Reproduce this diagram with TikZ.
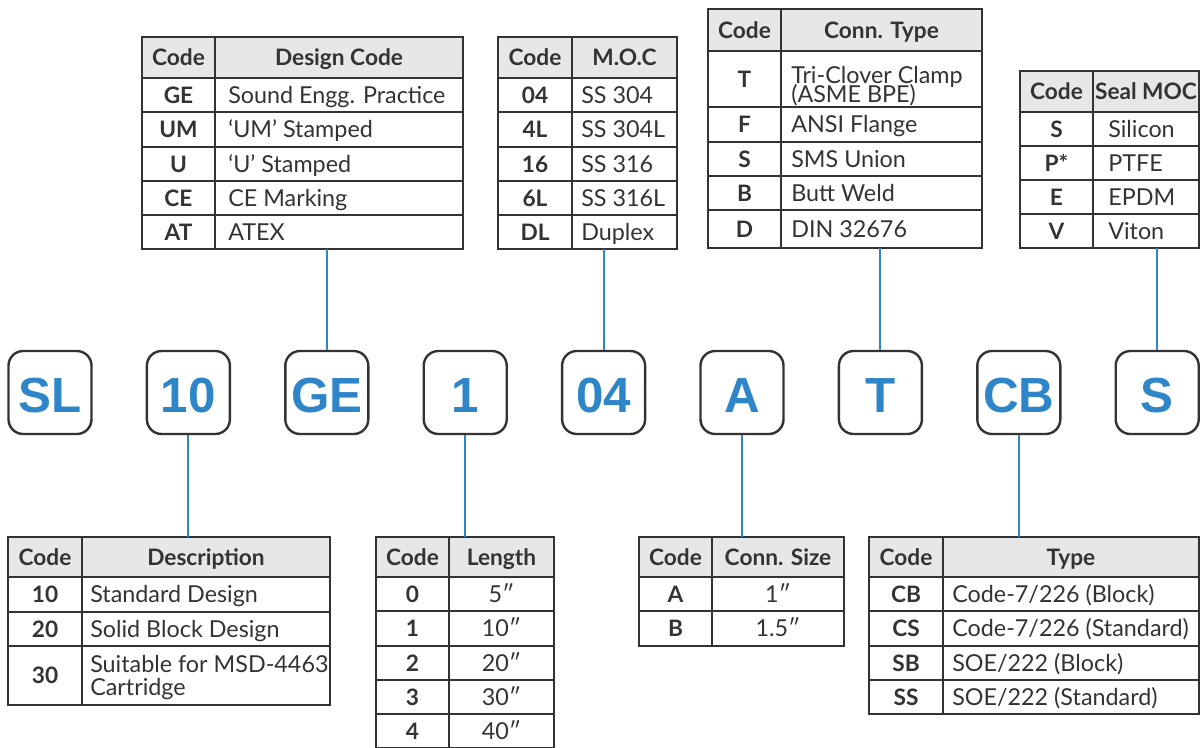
\documentclass[tikz,border=0pt]{standalone}
\usepackage{fontspec}
\usepackage{tikz}
\setmainfont{Lato}
\newfontfamily\bigfont{Liberation Sans}
\newcommand\tightlines{\lineskiplimit-30pt\relax}

\definecolor{codeblue}{HTML}{2E86C8}
\definecolor{tabline}{HTML}{333333}
\definecolor{headgray}{HTML}{E6E7E8}
\definecolor{txtgray}{HTML}{333333}

\tikzset{
  codebox/.style={draw=tabline, line width=1.8pt, rounded corners=11pt, minimum width=62.25pt, minimum height=62.25pt, inner sep=0pt, text=codeblue, text height=30.3pt, text depth=0pt, font=\bigfont\bfseries\fontsize{37}{37}\selectfont},
  link/.style={draw=codeblue, line width=1.5pt},
  tabframe/.style={draw=tabline, line width=1.1pt},
  headfill/.style={fill=headgray},
  headtxt/.style={inner sep=0pt, text=txtgray, text height=12.2pt, text depth=0pt, font=\bfseries\fontsize{17}{19}\selectfont},
  codetxt/.style={headtxt},
  celltxt/.style={inner sep=0pt, text=txtgray, text height=12.5pt, text depth=0pt, font=\fontsize{17.5}{20}\selectfont},
  twoline/.style={inner sep=0pt, text=txtgray, align=left, anchor=north west},
}

\begin{document}
\begin{tikzpicture}[x=0.75pt,y=0.75pt,yscale=-1,xscale=1]
\useasboundingbox (0,0) rectangle (1202,747);

%Shape: Table [id:designcode]
\fill[headfill] (142,37) rectangle (463,78);
\draw[tabframe] (142,37) rectangle (463,249);
\draw[tabframe] (215,37) -- (215,249);
\draw[tabframe] (142,78) -- (463,78) (142,112) -- (463,112) (142,147) -- (463,147) (142,181) -- (463,181) (142,215) -- (463,215);
% Text Node
\node[headtxt] (dcHc) at (178.5,57.5) {Code};
\node[headtxt] (dcHd) at (339,57.5) {Design Code};
\node[codetxt] (dcGE) at (178.5,95) {GE};
\node[celltxt, anchor=west] (dcSound) at (228,95) {Sound Engg. Practice};
\node[codetxt] (dcUM) at (178.5,129.5) {UM};
\node[celltxt, anchor=west] (dcUMs) at (228,129.5) {‘UM’ Stamped};
\node[codetxt] (dcU) at (178.5,164) {U};
\node[celltxt, anchor=west] (dcUs) at (228,164) {‘U’ Stamped};
\node[codetxt] (dcCE) at (178.5,198) {CE};
\node[celltxt, anchor=west] (dcCEm) at (228,198) {CE Marking};
\node[codetxt] (dcAT) at (178.5,232) {AT};
\node[celltxt, anchor=west] (dcATEX) at (228,232) {ATEX};

%Shape: Table [id:moc]
\fill[headfill] (498,37) rectangle (677,78);
\draw[tabframe] (498,37) rectangle (677,249);
\draw[tabframe] (572,37) -- (572,249);
\draw[tabframe] (498,78) -- (677,78) (498,112) -- (677,112) (498,147) -- (677,147) (498,181) -- (677,181) (498,215) -- (677,215);
% Text Node
\node[headtxt] (mocHc) at (535,57.5) {Code};
\node[headtxt] (mocHd) at (624.5,57.5) {M.O.C};
\node[codetxt] (moc04) at (535,95) {04};
\node[celltxt, anchor=west] (mocSSa) at (581,95) {SS 304};
\node[codetxt] (moc4L) at (535,129.5) {4L};
\node[celltxt, anchor=west] (mocSSb) at (581,129.5) {SS 304L};
\node[codetxt] (moc16) at (535,164) {16};
\node[celltxt, anchor=west] (mocSSc) at (581,164) {SS 316};
\node[codetxt] (moc6L) at (535,198) {6L};
\node[celltxt, anchor=west] (mocSSd) at (581,198) {SS 316L};
\node[codetxt] (mocDL) at (535,232) {DL};
\node[celltxt, anchor=west] (mocDup) at (581,232) {Duplex};

%Shape: Table [id:conntype]
\fill[headfill] (708,9) rectangle (982,51);
\draw[tabframe] (708,9) rectangle (982,248);
\draw[tabframe] (781,9) -- (781,248);
\draw[tabframe] (708,51) -- (982,51) (708,107) -- (982,107) (708,142) -- (982,142) (708,176) -- (982,176) (708,210) -- (982,210);
% Text Node
\node[headtxt] (ctHc) at (744.5,30) {Code};
\node[headtxt] (ctHd) at (881.5,30) {Conn. Type};
\node[codetxt] (ctT) at (744.5,79) {T};
\node[twoline, font=\fontsize{17.5}{14}\selectfont\tightlines] (ctTri) at (791,66) {Tri-Clover Clamp\\(ASME BPE)};
\node[codetxt] (ctF) at (744.5,124.5) {F};
\node[celltxt, anchor=west] (ctAnsi) at (791,124.5) {ANSI Flange};
\node[codetxt] (ctS) at (744.5,159) {S};
\node[celltxt, anchor=west] (ctSms) at (791,159) {SMS Union};
\node[codetxt] (ctB) at (744.5,193) {B};
\node[celltxt, anchor=west] (ctButt) at (791,193) {Butt Weld};
\node[codetxt] (ctD) at (744.5,229) {D};
\node[celltxt, anchor=west] (ctDin) at (791,229) {DIN 32676};

%Shape: Table [id:sealmoc]
\fill[headfill] (1020,71) rectangle (1199,112);
\draw[tabframe] (1020,71) rectangle (1199,248);
\draw[tabframe] (1093,71) -- (1093,248);
\draw[tabframe] (1020,112) -- (1199,112) (1020,146) -- (1199,146) (1020,180) -- (1199,180) (1020,214) -- (1199,214);
% Text Node
\node[headtxt] (smHc) at (1056.5,91.5) {Code};
\node[headtxt] (smHd) at (1146,91.5) {Seal MOC};
\node[codetxt] (smS) at (1056.5,129) {S};
\node[celltxt, anchor=west] (smSil) at (1108,129) {Silicon};
\node[codetxt] (smP) at (1056.5,163) {P*};
\node[celltxt, anchor=west] (smPtfe) at (1108,163) {PTFE};
\node[codetxt] (smE) at (1056.5,197) {E};
\node[celltxt, anchor=west] (smEpdm) at (1108,197) {EPDM};
\node[codetxt] (smV) at (1056.5,231) {V};
\node[celltxt, anchor=west] (smVit) at (1108,231) {Viton};

%Shape: Table [id:description]
\fill[headfill] (8,537) rectangle (330,577);
\draw[tabframe] (8,537) rectangle (330,705);
\draw[tabframe] (82,537) -- (82,705);
\draw[tabframe] (8,577) -- (330,577) (8,612) -- (330,612) (8,646) -- (330,646);
% Text Node
\node[headtxt] (dsHc) at (45,557) {Code};
\node[headtxt] (dsHd) at (206,557) {Description};
\node[codetxt] (ds10) at (45,594.5) {10};
\node[celltxt, anchor=west] (dsStd) at (90,594.5) {Standard Design};
\node[codetxt] (ds20) at (45,629) {20};
\node[celltxt, anchor=west] (dsSol) at (90,629) {Solid Block Design};
\node[codetxt] (ds30) at (45,675.5) {30};
\node[twoline, font=\fontsize{17.5}{17.25}\selectfont\tightlines] (dsSuit) at (90,655.5) {Suitable for MSD-4463\\Cartridge};

%Shape: Table [id:length]
\fill[headfill] (376,537) rectangle (554,577);
\draw[tabframe] (376,537) rectangle (554,748);
\draw[tabframe] (449,537) -- (449,748);
\draw[tabframe] (376,577) -- (554,577) (376,611) -- (554,611) (376,646) -- (554,646) (376,680) -- (554,680) (376,714) -- (554,714);
% Text Node
\node[headtxt] (lnHc) at (412.5,557) {Code};
\node[headtxt] (lnHd) at (501.5,557) {Length};
\node[codetxt] (ln0) at (412.5,594) {0};
\node[celltxt] (lnV0) at (501.5,594) {5″};
\node[codetxt] (ln1) at (412.5,628.5) {1};
\node[celltxt] (lnV1) at (501.5,628.5) {10″};
\node[codetxt] (ln2) at (412.5,663) {2};
\node[celltxt] (lnV2) at (501.5,663) {20″};
\node[codetxt] (ln3) at (412.5,697) {3};
\node[celltxt] (lnV3) at (501.5,697) {30″};
\node[codetxt] (ln4) at (412.5,731) {4};
\node[celltxt] (lnV4) at (501.5,731) {40″};

%Shape: Table [id:connsize]
\fill[headfill] (639,537) rectangle (844,577);
\draw[tabframe] (639,537) rectangle (844,646);
\draw[tabframe] (712,537) -- (712,646);
\draw[tabframe] (639,577) -- (844,577) (639,611) -- (844,611);
% Text Node
\node[headtxt] (csHc) at (675.5,557) {Code};
\node[headtxt] (csHd) at (778,557) {Conn. Size};
\node[codetxt] (csA) at (675.5,594) {A};
\node[celltxt] (csVA) at (778,594) {1″};
\node[codetxt] (csB) at (675.5,628.5) {B};
\node[celltxt] (csVB) at (778,628.5) {1.5″};

%Shape: Table [id:type]
\fill[headfill] (869,537) rectangle (1199,577);
\draw[tabframe] (869,537) rectangle (1199,714);
\draw[tabframe] (943,537) -- (943,714);
\draw[tabframe] (869,577) -- (1199,577) (869,611) -- (1199,611) (869,646) -- (1199,646) (869,680) -- (1199,680);
% Text Node
\node[headtxt] (tyHc) at (906,557) {Code};
\node[headtxt] (tyHd) at (1071,557) {Type};
\node[codetxt] (tyCB) at (906,594) {CB};
\node[celltxt, anchor=west] (tyCBv) at (952,594) {Code-7/226 (Block)};
\node[codetxt] (tyCS) at (906,628.5) {CS};
\node[celltxt, anchor=west] (tyCSv) at (952,628.5) {Code-7/226 (Standard)};
\node[codetxt] (tySB) at (906,663) {SB};
\node[celltxt, anchor=west] (tySBv) at (952,663) {SOE/222 (Block)};
\node[codetxt] (tySS) at (906,697) {SS};
\node[celltxt, anchor=west] (tySSv) at (952,697) {SOE/222 (Standard)};

%Shape: Rounded Rectangles [id:codes]
\node[codebox] (bSL) at (50,392.5) {SL};
\node[codebox] (b10) at (188.4,392.5) {10};
\node[codebox] (bGE) at (326.8,392.5) {GE};
\node[codebox] (b1) at (465.2,392.5) {1};
\node[codebox] (b04) at (603.6,392.5) {04};
\node[codebox] (bA) at (742,392.5) {A};
\node[codebox] (bT) at (880.4,392.5) {T};
\node[codebox] (bCB) at (1018.8,392.5) {CB};
\node[codebox] (bS) at (1157.2,392.5) {S};

%Straight Lines [id:links]
\coordinate (eGE) at (bGE.north |- 0,249);
\coordinate (e04) at (b04.north |- 0,249);
\coordinate (eT) at (bT.north |- 0,248);
\coordinate (eS) at (bS.north |- 0,248);
\coordinate (e10) at (b10.south |- 0,537);
\coordinate (e1) at (b1.south |- 0,537);
\coordinate (eA) at (bA.south |- 0,537);
\coordinate (eCB) at (bCB.south |- 0,537);
\draw[link] (bGE.north) -- (eGE);
\draw[link] (b04.north) -- (e04);
\draw[link] (bT.north) -- (eT);
\draw[link] (bS.north) -- (eS);
\draw[link] (b10.south) -- (e10);
\draw[link] (b1.south) -- (e1);
\draw[link] (bA.south) -- (eA);
\draw[link] (bCB.south) -- (eCB);

\end{tikzpicture}
\end{document}
